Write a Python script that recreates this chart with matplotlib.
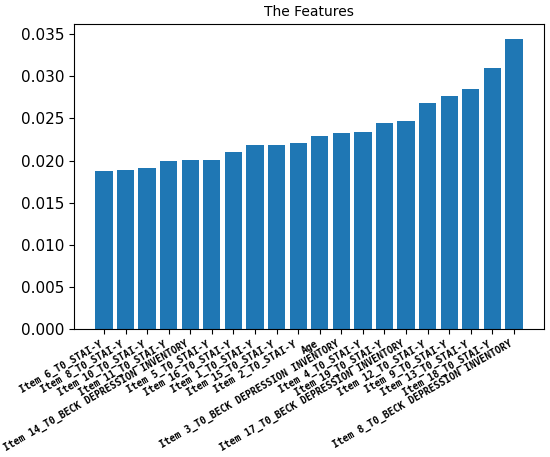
import matplotlib
matplotlib.use("Agg")
import matplotlib.pyplot as plt

features = [
    "Item 6_T0_STAI-Y", "Item 8_T0_STAI-Y", "Item 10_T0_STAI-Y", "Item 11_T0_STAI-Y",
    "Item 14_T0_BECK DEPRESSION INVENTORY", "Item 5_T0_STAI-Y", "Item 16_T0_STAI-Y",
    "Item 1_T0_STAI-Y", "Item 15_T0_STAI-Y", "Item 2_T0_STAI-Y", "Age",
    "Item 3_T0_BECK DEPRESSION INVENTORY", "Item 4_T0_STAI-Y", "Item 19_T0_STAI-Y",
    "Item 17_T0_BECK DEPRESSION INVENTORY", "Item 12_T0_STAI-Y", "Item 9_T0_STAI-Y",
    "Item 13_T0_STAI-Y", "Item 18_T0_STAI-Y", "Item 8_T0_BECK DEPRESSION INVENTORY",
]
importance = [
    0.01875, 0.01890, 0.01910, 0.02000, 0.02012, 0.02012, 0.02107, 0.02186,
    0.02189, 0.02209, 0.02288, 0.02323, 0.02335, 0.02446, 0.02465, 0.02680,
    0.02764, 0.02847, 0.03103, 0.03448,
]

fig, ax = plt.subplots(figsize=(5.5, 4.57), dpi=100)
fig.subplots_adjust(left=0.1345, right=0.989, top=0.9475, bottom=0.28)

x = range(len(features))
ax.bar(x, importance, color="#1f77b4", width=0.8)
ax.set_xticks(list(x))
ax.set_xticklabels(features, rotation=30, ha="right", fontsize=7,
                   family="DejaVu Sans Mono", fontweight="bold")
ax.tick_params(axis="y", labelsize=11)
ax.set_title("The Features", fontsize=10)

fig.savefig("out.png")
